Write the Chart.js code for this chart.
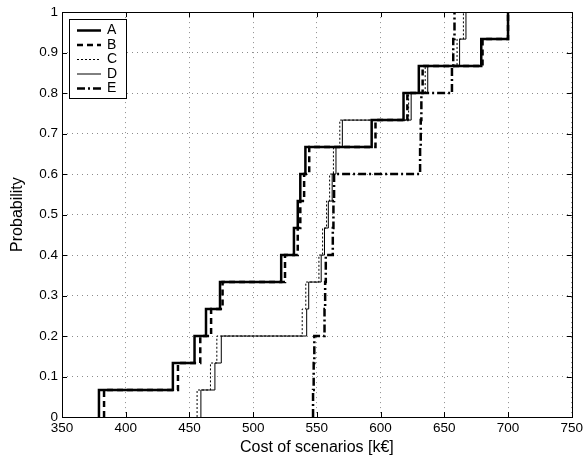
<!DOCTYPE html>
<html>
<head>
<meta charset="utf-8">
<script src="https://cdn.jsdelivr.net/npm/chart.js@4/dist/chart.umd.min.js"></script>
<style>
  html, body { margin: 0; padding: 0; background: #fff; }
  #wrap { width: 586px; height: 457px; }
</style>
</head>
<body>
<div id="wrap"><canvas id="c" width="586" height="457"></canvas></div>
<script>
(function () {
  'use strict';

  // probability levels of the empirical CDF (15 scenarios)
  const levels = [0, 0.0667, 0.1333, 0.2, 0.2667, 0.3333, 0.4, 0.4667, 0.5333,
                  0.6, 0.6667, 0.7333, 0.8, 0.8667, 0.9333, 1];
  const seriesNames = ['A', 'B', 'C', 'D', 'E'];
  // sorted scenario costs [k€]
  const costA = [379, 437, 454, 463, 474, 522, 532, 535, 537, 541, 593, 618, 630, 679, 700];
  const costB = [383, 441, 458.5, 467, 476, 525, 535, 537, 540, 544, 596, 621, 633, 680, 700];
  const costC = [456, 466.5, 471.5, 538.5, 541.3, 551.6, 554.5, 557.6, 560, 563, 568, 622, 635, 660, 665];
  const costD = [459, 470, 475, 542, 543.6, 553.4, 556, 559, 562, 565, 570, 624, 637, 662, 667];
  const costE = [547, 547.5, 548, 556, 556.5, 557, 562.5, 563, 563.5, 631, 631.5, 632, 656, 657, 658];
  const xTicks = [350, 400, 450, 500, 550, 600, 650, 700, 750];
  const yTicks = [0, 0.1, 0.2, 0.3, 0.4, 0.5, 0.6, 0.7, 0.8, 0.9, 1];

  const FONT = '"Liberation Sans", Arial, Helvetica, sans-serif';

  function ecdf(costs) {
    const pts = [{ x: costs[0], y: levels[0] }];
    costs.forEach((c, i) => pts.push({ x: c, y: levels[i + 1] }));
    return pts;
  }

  const styles = [
    { width: 2.5, dash: [], color: '#000' },
    { width: 2.5, dash: [6, 4], color: '#000' },
    { width: 1, dash: [2, 2], color: '#000' },
    { width: 1, dash: [], color: '#000' },
    { width: 2.5, dash: [8, 3, 2, 3], color: '#000' }
  ];
  const costs = [costA, costB, costC, costD, costE];

  const datasets = costs.map((c, i) => ({
    label: seriesNames[i],
    data: ecdf(c),
    borderColor: styles[i].color,
    borderWidth: styles[i].width,
    borderDash: styles[i].dash,
    stepped: 'before',
    pointRadius: 0,
    fill: false
  }));

  // frame, inward ticks on all four sides, and the legend box
  const boxTicks = {
    id: 'boxTicks',
    afterDraw(chart) {
      const { ctx, chartArea: a, scales: { x, y } } = chart;
      ctx.save();
      ctx.strokeStyle = '#000';
      ctx.lineWidth = 1;
      ctx.setLineDash([]);
      ctx.strokeRect(Math.round(a.left) + 0.5, Math.round(a.top) + 0.5,
                     Math.round(a.right - a.left), Math.round(a.bottom - a.top));
      ctx.beginPath();
      const L = 5;
      xTicks.forEach(v => {
        const px = Math.round(x.getPixelForValue(v)) + 0.5;
        ctx.moveTo(px, a.bottom); ctx.lineTo(px, a.bottom - L);
        ctx.moveTo(px, a.top); ctx.lineTo(px, a.top + L);
      });
      yTicks.forEach(v => {
        const py = Math.round(y.getPixelForValue(v)) + 0.5;
        ctx.moveTo(a.left, py); ctx.lineTo(a.left + L, py);
        ctx.moveTo(a.right, py); ctx.lineTo(a.right - L, py);
      });
      ctx.stroke();

      const lx = 69.5, ly = 19.5, lw = 57, lh = 79;
      ctx.fillStyle = '#fff';
      ctx.fillRect(lx, ly, lw, lh);
      ctx.strokeRect(lx, ly, lw, lh);
      ctx.font = '14px ' + FONT;
      ctx.textBaseline = 'middle';
      ctx.fillStyle = '#000';
      seriesNames.forEach((n, i) => {
        const yy = ly + 11 + i * 14.5;
        const st = styles[i];
        ctx.beginPath();
        ctx.lineWidth = st.width;
        ctx.setLineDash(st.dash);
        ctx.moveTo(77, yy); ctx.lineTo(101, yy);
        ctx.stroke();
        ctx.setLineDash([]);
        ctx.fillText(n, 107, yy);
      });
      ctx.restore();
    }
  };

  const gridOpts = { color: 'rgba(0,0,0,0.45)', drawTicks: false, lineWidth: 1 };
  const borderOpts = { display: false, dash: [1, 4] };

  new Chart(document.getElementById('c').getContext('2d'), {
    type: 'line',
    data: { datasets },
    options: {
      responsive: false,
      animation: false,
      layout: { padding: { top: 11, right: 11, left: 0, bottom: 0 } },
      plugins: { legend: { display: false }, tooltip: { enabled: false } },
      scales: {
        x: {
          type: 'linear', min: 350, max: 750,
          afterBuildTicks: s => { s.ticks = xTicks.map(v => ({ value: v })); },
          afterFit: s => { s.height = 40; },
          grid: gridOpts,
          border: borderOpts,
          ticks: { color: '#000', font: { family: FONT, size: 13.5 }, padding: 3, maxRotation: 0 },
          title: { display: true, text: 'Cost of scenarios [k€]', color: '#000',
                   font: { family: FONT, size: 16 }, padding: { top: 0, bottom: 0 } }
        },
        y: {
          type: 'linear', min: 0, max: 1,
          afterBuildTicks: s => { s.ticks = yTicks.map(v => ({ value: v })); },
          afterFit: s => { s.width = 62; },
          grid: gridOpts,
          border: borderOpts,
          ticks: { color: '#000', font: { family: FONT, size: 13.5 }, padding: 4,
                   callback: v => String(Math.round(v * 10) / 10) },
          title: { display: true, text: 'Probability', color: '#000',
                   font: { family: FONT, size: 16 }, padding: { top: 8, bottom: 0 } }
        }
      }
    },
    plugins: [boxTicks]
  });
})();
</script>
</body>
</html>
